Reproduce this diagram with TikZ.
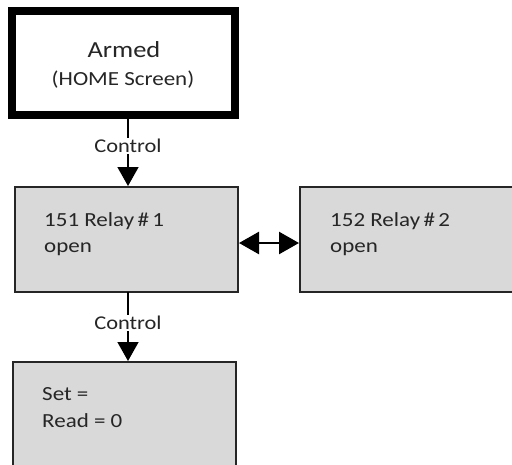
\documentclass[tikz,border=0pt]{standalone}
\usepackage{fontspec}
\setmainfont{Carlito}[FakeStretch=1.15]
\usetikzlibrary{arrows.meta}
\definecolor{boxgray}{HTML}{D9D9D9}
\definecolor{txt}{HTML}{262626}
\begin{document}
\begin{tikzpicture}[x=1pt,y=-1pt,
  graybox/.style={draw=black!85,line width=2pt,fill=boxgray},
  lbl/.style={anchor=base west,inner sep=0pt,text=txt,font=\fontsize{20}{24}\selectfont},
  ctl/.style={fill=white,inner sep=1pt,text=txt,font=\fontsize{19.5}{22}\selectfont},
  conn/.style={line width=1.5pt,-{Triangle[length=19pt,width=21pt]}},
  bconn/.style={line width=2.5pt,{Triangle[length=20pt,width=22pt]}-{Triangle[length=20pt,width=22pt]}}]
\useasboundingbox (0,0) rectangle (512,464);
\clip (0,0) rectangle (512,464);
\fill[white] (0,0) rectangle (512,464);
% Armed box
\draw[line width=8pt,fill=white] (12,11) rectangle (235,115);
\coordinate (armB) at (128,119);
\node[text=txt,font=\fontsize{23}{26}\selectfont,anchor=base] (armed) at (124,57) {Armed};
\node[text=txt,font=\fontsize{20}{24}\selectfont,anchor=base] (home) at (123,85) {(HOME Screen)};
% relay boxes
\draw[graybox] (15,187) rectangle (238,292);
\coordinate (r1T) at (128,186);
\coordinate (r1B) at (128,292);
\coordinate (r1R) at (239,243);
\draw[graybox] (300,187) rectangle (530,292);
\coordinate (r2L) at (299,243);
\node[lbl] (t1) at (44,226) {151 Relay\,\#\,1};
\node[lbl] (t2) at (44,252) {open};
\node[lbl] (t3) at (330,226) {152 Relay\,\#\,2};
\node[lbl] (t4) at (330,252) {open};
% set box
\draw[graybox] (13,362) rectangle (236,480);
\coordinate (sT) at (128,361);
\node[lbl] (s1) at (42,400) {Set =};
\node[lbl] (s2) at (42,427) {Read = 0};
% connectors
\draw[conn] (armB) -- (r1T);
\node[ctl] (c1) at (128,146) {Control};
\draw[conn] (r1B) -- (sT);
\node[ctl] (c2) at (128,323) {Control};
\draw[bconn] (r1R) -- (r2L);
\end{tikzpicture}
\end{document}
